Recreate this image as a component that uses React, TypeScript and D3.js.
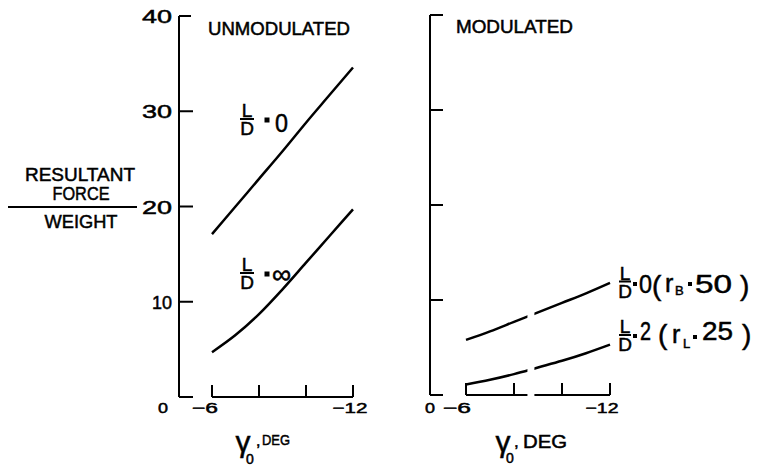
import React from "react";
import * as d3 from "d3";

// ---- data ----
const gammaTicks = [-6, -8, -10, -12];
const gammaLabels = ["-6", "-12"];
const forceTicks = [0, 10, 20, 30, 40];
const forceLabels = ["10", "20", "30", "40"];

const gammaUnmod = [-6, -7, -8, -9, -10, -11, -12];
const unmodLD0 = [17.1, 20.0, 22.9, 25.8, 28.8, 31.7, 34.6];
const unmodLDinf = [4.7, 6.5, 8.7, 11.3, 14.1, 16.9, 19.7];

const gammaMod = [-6, -7, -8, -9, -10, -11, -12];
const modLD0 = [5.8, 6.7, 7.7, 8.7, 9.7, 10.7, 11.8];
const modLD2 = [1.1, 1.6, 2.2, 2.9, 3.6, 4.4, 5.3];

const FONT = "'Liberation Sans', Arial, sans-serif";

type Pt = { g: number; v: number };
const zip = (g: number[], v: number[]): Pt[] => g.map((x, i) => ({ g: x, v: v[i] }));

function Frac({ cx, bar, w = 14 }: { cx: number; bar: number; w?: number }) {
  return (
    <g fontFamily={FONT} fontSize={19} textAnchor="middle">
      <text x={cx} y={bar - 2}>L</text>
      <line x1={cx - w / 2} x2={cx + w / 2} y1={bar} y2={bar} stroke="#000" strokeWidth={2} />
      <text x={cx} y={bar + 16}>D</text>
    </g>
  );
}

function Eq({ x, y, s = 5 }: { x: number; y: number; s?: number }) {
  return <rect x={x - s / 2} y={y - s / 2} width={s} height={s} fill="#000" stroke="none" />;
}

export default function App() {
  // left panel scales
  const xL = d3.scaleLinear().domain([-6, -12]).range([212, 353]);
  const yL = d3.scaleLinear().domain([0, 40]).range([397, 16]);
  // right panel scales
  const xR = d3.scaleLinear().domain([-6, -12]).range([466, 610]);
  const yR = d3.scaleLinear().domain([0, 40]).range([395, 15]);

  const lineL = d3
    .line<Pt>()
    .x((d) => xL(d.g))
    .y((d) => yL(d.v))
    .curve(d3.curveMonotoneX);
  const lineR = d3
    .line<Pt>()
    .x((d) => xR(d.g))
    .y((d) => yR(d.v))
    .curve(d3.curveMonotoneX);

  const axL = 179;
  const axR = 430;
  const gapA = xR(-8.56);
  const gapB = xR(-8.85);

  return (
    <svg
      width={764}
      height={466}
      style={{ position: "absolute", left: 0, top: 0, background: "#fff" }}
      fontFamily={FONT}
    >
      <defs>
        <mask id="gap">
          <rect x={0} y={0} width={764} height={466} fill="#fff" />
          <rect x={gapA} y={250} width={gapB - gapA} height={160} fill="#000" />
        </mask>
      </defs>
      <rect x={0} y={0} width={764} height={466} fill="#fff" />

      <g stroke="#000" strokeWidth={0.5}>
        {/* y-axis title */}
        <text x={80} y={181} textAnchor="middle" fontSize={19} textLength={110} lengthAdjust="spacingAndGlyphs">RESULTANT</text>
        <text x={81} y={200} textAnchor="middle" fontSize={19} textLength={57} lengthAdjust="spacingAndGlyphs">FORCE</text>
        <text x={81} y={228} textAnchor="middle" fontSize={19} textLength={73} lengthAdjust="spacingAndGlyphs">WEIGHT</text>

        {/* left panel texts */}
        {forceLabels.map((l) => (
          <text
            key={l}
            x={172}
            y={yL(+l) + 7}
            textAnchor="end"
            fontSize={19}
            textLength={l === "10" ? 20 : 30}
            lengthAdjust="spacingAndGlyphs"
          >
            {l}
          </text>
        ))}
        <text x={163} y={413} textAnchor="middle" fontSize={15} textLength={10} lengthAdjust="spacingAndGlyphs">0</text>
        <text x={xL(-6) - 7} y={413} textAnchor="middle" fontSize={15} textLength={26} lengthAdjust="spacingAndGlyphs">{"\u2212" + gammaLabels[0].slice(1)}</text>
        <text x={xL(-12) - 3} y={413} textAnchor="middle" fontSize={15} textLength={35} lengthAdjust="spacingAndGlyphs">{"\u2212" + gammaLabels[1].slice(1)}</text>
        <text x={243} y={452} textAnchor="middle" fontSize={30}>γ</text>
        <text x={250} y={464} textAnchor="middle" fontSize={14}>0</text>
        <text x={256} y={446} fontSize={16}>,</text>
        <text x={262} y={445} fontSize={15} textLength={28} lengthAdjust="spacingAndGlyphs">DEG</text>
        <text x={208} y={35} fontSize={18} textLength={142} lengthAdjust="spacingAndGlyphs">UNMODULATED</text>

        <Frac cx={247} bar={119} />
        <text x={275} y={132} fontSize={26} textLength={13} lengthAdjust="spacingAndGlyphs">0</text>
        <Frac cx={247} bar={273} />
        <text x={272} y={283} fontSize={26} textLength={19} lengthAdjust="spacingAndGlyphs">∞</text>

        {/* right panel texts */}
        <text x={430} y={413} textAnchor="middle" fontSize={15} textLength={10} lengthAdjust="spacingAndGlyphs">0</text>
        <text x={xR(-6) - 9} y={413} textAnchor="middle" fontSize={15} textLength={28} lengthAdjust="spacingAndGlyphs">{"\u2212" + gammaLabels[0].slice(1)}</text>
        <text x={xR(-12) - 8} y={413} textAnchor="middle" fontSize={15} textLength={33} lengthAdjust="spacingAndGlyphs">{"\u2212" + gammaLabels[1].slice(1)}</text>
        <text x={503} y={452} textAnchor="middle" fontSize={30}>γ</text>
        <text x={510} y={463} textAnchor="middle" fontSize={14}>0</text>
        <text x={514} y={447} fontSize={17}>,</text>
        <text x={523} y={448} fontSize={18} textLength={44} lengthAdjust="spacingAndGlyphs">DEG</text>
        <text x={456} y={33} fontSize={18} textLength={117} lengthAdjust="spacingAndGlyphs">MODULATED</text>

        {/* label L/D = 0 (rB = 50) */}
        <Frac cx={625} bar={281.5} w={12} />
        <text x={639} y={293} fontSize={26} textLength={13} lengthAdjust="spacingAndGlyphs">0</text>
        <text x={652} y={295} fontSize={28}>(</text>
        <text x={665} y={292} fontSize={25}>r</text>
        <text x={675} y={295} fontSize={13}>B</text>
        <text x={695} y={293} fontSize={26} textLength={37} lengthAdjust="spacingAndGlyphs">50</text>
        <text x={740} y={295} fontSize={28}>)</text>

        {/* label L/D = 2 (rL = 25) */}
        <Frac cx={625} bar={335} w={12} />
        <text x={640} y={340} fontSize={26} textLength={11} lengthAdjust="spacingAndGlyphs">2</text>
        <text x={658} y={344} fontSize={28}>(</text>
        <text x={672} y={343} fontSize={25}>r</text>
        <text x={683} y={348} fontSize={13}>L</text>
        <text x={702} y={340} fontSize={26} textLength={31} lengthAdjust="spacingAndGlyphs">25</text>
        <text x={742} y={344} fontSize={28}>)</text>
      </g>

      {/* equals marks */}
      <Eq x={267} y={120} />
      <Eq x={267} y={274} />
      <Eq x={635} y={284} s={4} />
      <Eq x={690} y={284} s={4} />
      <Eq x={635} y={336} s={4} />
      <Eq x={695} y={337} s={4} />

      <line x1={8} x2={137} y1={207} y2={207} stroke="#000" strokeWidth={2} />

      {/* ===== LEFT PANEL ===== */}
      <g stroke="#000" strokeWidth={2} fill="none">
        <line x1={axL} x2={axL} y1={yL(40)} y2={yL(0)} />
        {forceTicks.map((t) => (
          <line key={t} x1={axL} x2={axL + (t === 40 ? 12 : 14)} y1={yL(t)} y2={yL(t)} />
        ))}
        <line x1={xL(-6)} x2={xL(-12)} y1={yL(0)} y2={yL(0)} />
        {gammaTicks.map((t) => (
          <line key={t} x1={xL(t)} x2={xL(t)} y1={yL(0)} y2={yL(0) - 12} />
        ))}
      </g>
      <path d={lineL(zip(gammaUnmod, unmodLD0)) || ""} stroke="#000" strokeWidth={2.5} fill="none" />
      <path d={lineL(zip(gammaUnmod, unmodLDinf)) || ""} stroke="#000" strokeWidth={2.5} fill="none" />

      {/* ===== RIGHT PANEL ===== */}
      <g stroke="#000" strokeWidth={2} fill="none">
        <line x1={axR} x2={axR} y1={yR(40)} y2={yR(0)} />
        {forceTicks.map((t) => (
          <line key={t} x1={axR} x2={axR + 13} y1={yR(t)} y2={yR(t)} />
        ))}
      </g>
      <g mask="url(#gap)">
        <g stroke="#000" strokeWidth={2} fill="none">
          <line x1={xR(-6)} x2={xR(-12)} y1={yR(0)} y2={yR(0)} />
          {gammaTicks.map((t) => (
            <line key={t} x1={xR(t)} x2={xR(t)} y1={yR(0)} y2={yR(0) - 12} />
          ))}
        </g>
        <path d={lineR(zip(gammaMod, modLD0)) || ""} stroke="#000" strokeWidth={2.5} fill="none" />
        <path d={lineR(zip(gammaMod, modLD2)) || ""} stroke="#000" strokeWidth={2.5} fill="none" />
      </g>
    </svg>
  );
}
